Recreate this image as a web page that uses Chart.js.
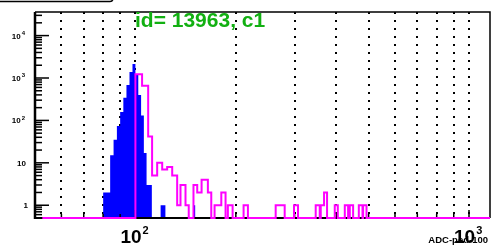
<!DOCTYPE html>
<html>
<head>
<meta charset="utf-8">
<script src="https://cdn.jsdelivr.net/npm/chart.js@4.4.1/dist/chart.umd.min.js"></script>
<style>
  html, body { margin: 0; padding: 0; background: #fff; }
  canvas { display: block; }
</style>
</head>
<body>
<canvas id="chart" width="491" height="246"></canvas>
<script>
// axis ranges (ADC on x, entries on y, both log)
const X_MIN = 50, X_MAX = 1156;
const Y_MIN = 0.5, Y_MAX = 36000;

// dotted grid lines and labelled decades on x
const xGridTicks = [60, 70, 80, 90, 100, 200, 300, 400, 500, 600, 700, 800, 900, 1000];
const xLabelTicks = [100, 1000];
const yLabelTicks = [1, 10, 100, 1000, 10000];

// filled blue histogram: bin edges (ADC) and contents
const blueEdges = [80, 82, 84, 86, 88, 90, 92, 94, 96, 98, 100, 102, 104, 106, 108, 110, 112, 119, 123, 149.6, 151.3];
const blueCounts = [2, 2, 15, 35, 74, 158, 340, 680, 1380, 2140, 1200, 400, 130, 17, 3, 3, 0, 1, 0, 1];

// magenta outline histogram: bin edges (ADC) and contents
const pinkEdges = [52.6, 100, 104.7, 109.2, 112.2, 116.2, 120.3, 124.5, 128.9, 133.4, 136.5, 141.3, 144.5,
  149.3, 153.2, 157.9, 164.9, 168.8, 172.7, 180.9, 186.3, 189.3, 195.6, 211, 217.4, 263.3, 280.2, 298.8,
  307.2, 347.1, 356.9, 359.4, 367.7, 375.4, 395.9, 404.3, 424.3, 434.1, 439.2, 449.4, 467.4, 479.5, 481.5,
  492.9, 1156];
const pinkCounts = [0, 1220, 660, 42, 5, 10, 7, 8, 5, 1, 3, 1, 0, 3, 2, 4, 2, 0, 1, 2, 0, 1, 0, 1, 0, 1, 0,
  1, 0, 1, 0, 1, 2, 0, 1, 0, 1, 0, 1, 0, 1, 0, 1, 0];

const titleText = 'id= 13963, c1';
const axisTitle = 'ADC-ped-100';

// empty bins sit on the bottom of the frame, like ROOT does on a log axis
function steps(edges, counts) {
  return edges.map((e, i) => {
    let c = counts[Math.min(i, counts.length - 1)];
    return { x: e, y: c > 0 ? c : Y_MIN };
  });
}

function drawPower(ctx, x, y, base, exp, baseSize, expSize, align) {
  ctx.font = 'bold ' + baseSize + 'px "Liberation Sans", Arial, sans-serif';
  let wb = ctx.measureText(base).width;
  ctx.font = 'bold ' + expSize + 'px "Liberation Sans", Arial, sans-serif';
  let we = exp ? ctx.measureText(exp).width + 1 : 0;
  let x0 = align === 'right' ? x - wb - we : x;
  ctx.textAlign = 'left';
  ctx.textBaseline = 'alphabetic';
  ctx.font = 'bold ' + baseSize + 'px "Liberation Sans", Arial, sans-serif';
  ctx.fillText(base, x0, y);
  if (exp) {
    ctx.font = 'bold ' + expSize + 'px "Liberation Sans", Arial, sans-serif';
    ctx.fillText(exp, x0 + wb + 1, y - baseSize * 0.45);
  }
}

const rootFrame = {
  id: 'rootFrame',
  beforeDatasetDraw(chart, args) {
    if (args.index !== 1) return;
    const ctx = chart.ctx;
    const a = chart.chartArea;
    const xs = chart.scales.x, ys = chart.scales.y;
    ctx.save();
    ctx.strokeStyle = '#000';
    ctx.lineCap = 'butt';

    // frame
    ctx.lineWidth = 1.5;
    ctx.beginPath();
    ctx.moveTo(a.left, a.top); ctx.lineTo(a.right, a.top); ctx.lineTo(a.right, a.bottom);
    ctx.stroke();
    ctx.lineWidth = 2.5;
    ctx.beginPath();
    ctx.moveTo(a.left, a.top); ctx.lineTo(a.left, a.bottom + 1);
    ctx.stroke();
    ctx.lineWidth = 2;
    ctx.beginPath();
    ctx.moveTo(a.left, a.bottom); ctx.lineTo(a.right, a.bottom);
    ctx.stroke();

    // y ticks, pointing into the frame
    ctx.lineWidth = 1.5;
    for (let k = -1; k <= 4; k++) {
      for (let m = 1; m <= 9; m++) {
        let v = m * Math.pow(10, k);
        if (v < Y_MIN || v > Y_MAX) continue;
        let py = ys.getPixelForValue(v);
        let len = m === 1 ? 14 : 7;
        ctx.beginPath();
        ctx.moveTo(a.left, py); ctx.lineTo(a.left + len, py);
        ctx.stroke();
      }
    }
    // x ticks
    ctx.lineWidth = 1.5;
    xGridTicks.forEach(v => {
      let px = xs.getPixelForValue(v);
      let len = xLabelTicks.includes(v) ? 8 : 4;
      ctx.beginPath();
      ctx.moveTo(px, a.bottom); ctx.lineTo(px, a.bottom - len);
      ctx.stroke();
    });

    // y labels
    ctx.fillStyle = '#000';
    yLabelTicks.forEach(v => {
      let py = ys.getPixelForValue(v) + 3;
      let k = Math.round(Math.log10(v));
      if (k === 0) drawPower(ctx, 28, py, '1', '', 8, 6, 'right');
      else if (k === 1) drawPower(ctx, 26, py, '10', '', 8, 6, 'right');
      else drawPower(ctx, 25, py, '10', String(k), 8, 6, 'right');
    });

    // x labels
    xLabelTicks.forEach(v => {
      let px = xs.getPixelForValue(v);
      let k = Math.round(Math.log10(v));
      drawPower(ctx, px - 15, 243, '10', String(k), 19, 11, 'left');
    });

    // axis title
    ctx.font = 'bold 9.5px "Liberation Sans", Arial, sans-serif';
    ctx.textAlign = 'right';
    ctx.fillText(axisTitle, 488, 243);

    // title
    ctx.fillStyle = '#12b012';
    ctx.font = 'bold 21px "Liberation Sans", Arial, sans-serif';
    ctx.textAlign = 'left';
    ctx.fillText(titleText, 135, 27);

    // bottom of the pave at the top left
    ctx.strokeStyle = '#000';
    ctx.lineWidth = 1.5;
    ctx.beginPath();
    ctx.moveTo(-2, 1.5); ctx.lineTo(110, 1.5);
    ctx.quadraticCurveTo(113, 1.5, 113, -2);
    ctx.stroke();
    ctx.restore();
  }
};

new Chart(document.getElementById('chart'), {
  type: 'line',
  data: {
    datasets: [
      {
        label: 'blue',
        data: steps(blueEdges, blueCounts),
        stepped: 'before',
        borderWidth: 0,
        borderColor: '#0000ff',
        backgroundColor: '#0000ff',
        fill: 'start',
        pointRadius: 0,
        order: 1
      },
      {
        label: 'magenta',
        data: steps(pinkEdges, pinkCounts),
        stepped: 'before',
        borderWidth: 2,
        borderColor: '#ff00ff',
        fill: false,
        pointRadius: 0,
        clip: 3,
        order: 0
      }
    ]
  },
  options: {
    responsive: false,
    devicePixelRatio: 1,
    animation: false,
    events: [],
    layout: { padding: { left: 35, top: 12, right: 1, bottom: 28 } },
    plugins: { legend: { display: false }, tooltip: { enabled: false } },
    scales: {
      x: {
        type: 'logarithmic',
        min: X_MIN,
        max: X_MAX,
        afterBuildTicks: s => { s.ticks = xGridTicks.map(v => ({ value: v })); },
        ticks: { display: false },
        grid: { color: '#000', lineWidth: 2, drawTicks: false },
        border: { display: false, dash: [2, 6] }
      },
      y: {
        type: 'logarithmic',
        min: Y_MIN,
        max: Y_MAX,
        ticks: { display: false },
        grid: { display: false, drawTicks: false },
        border: { display: false }
      }
    }
  },
  plugins: [rootFrame]
});
</script>
</body>
</html>
